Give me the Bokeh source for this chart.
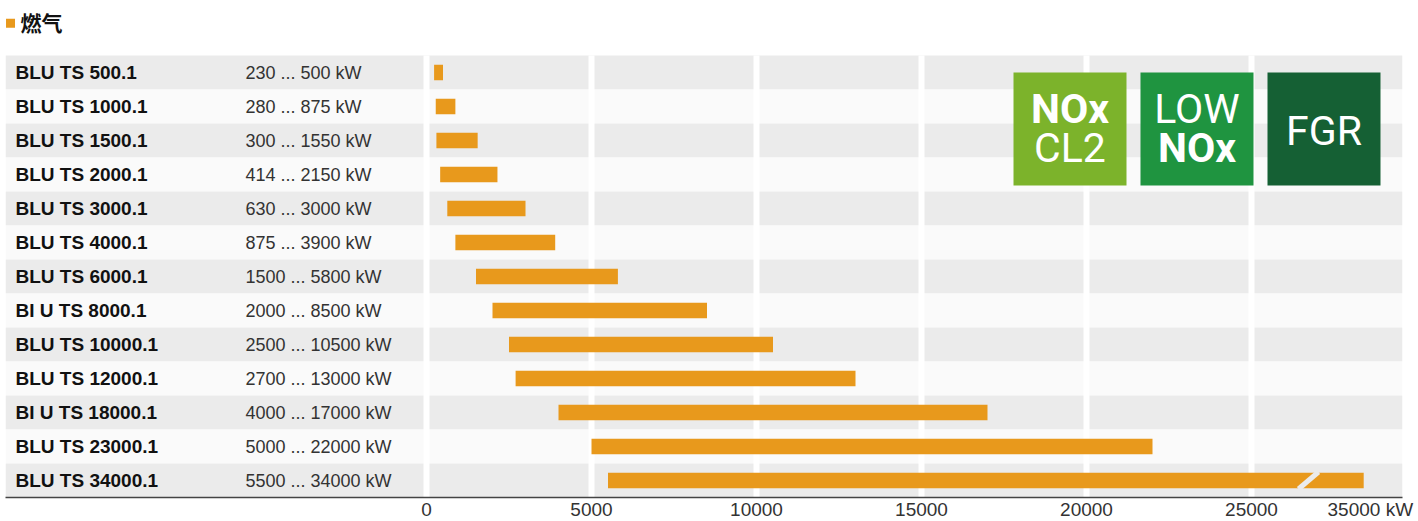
from bokeh.plotting import figure
from bokeh.models import Range1d, FixedTicker, ColumnDataSource
from bokeh.core.properties import value
from bokeh.embed import file_html
from bokeh.resources import INLINE

# ---------------- data ----------------
models = ["BLU TS 500.1", "BLU TS 1000.1", "BLU TS 1500.1", "BLU TS 2000.1",
          "BLU TS 3000.1", "BLU TS 4000.1", "BLU TS 6000.1", "BI U TS 8000.1",
          "BLU TS 10000.1", "BLU TS 12000.1", "BI U TS 18000.1", "BLU TS 23000.1",
          "BLU TS 34000.1"]
min_kw = [230, 280, 300, 414, 630, 875, 1500, 2000, 2500, 2700, 4000, 5000, 5500]
max_kw = [500, 875, 1550, 2150, 3000, 3900, 5800, 8500, 10500, 13000, 17000, 22000, 34000]
tick_values = [0, 5000, 10000, 15000, 20000, 25000, 35000]
tick_labels = ["0", "5000", "10000", "15000", "20000", "25000", "35000 kW"]
title_text = "燃气"
badges = [["NOx", "CL2"], ["LOW", "NOx"], ["FGR"]]

# ---------------- broken axis transform ----------------
BREAK = 27000
COMPRESS = 0.2


def disp(v):
    return v if v <= BREAK else BREAK + (v - BREAK) * COMPRESS


ORANGE = "#E8991C"
n = len(models)
rows = list(range(n))

X0, X1 = -12758, 29576
Y_TOP = -0.5 - 47 / 34.0

p = figure(frame_width=1397, frame_height=489,
           x_range=Range1d(X0, X1), y_range=Range1d(n - 0.5, Y_TOP),
           output_backend="svg", toolbar_location=None,
           y_axis_location=None, min_border_left=5, min_border_right=14,
           min_border_top=8, min_border_bottom=0)
p.outline_line_color = None
p.background_fill_color = "white"
p.border_fill_color = "white"
p.xgrid.visible = False
p.ygrid.visible = False

# row bands
band_colors = ["#ebebeb" if i % 2 == 0 else "#fafafa" for i in rows]
p.quad(left=[X0] * n, right=[X1] * n,
       top=[i - 0.5 for i in rows], bottom=[i + 0.5 for i in rows],
       fill_color=band_colors, line_color=None)

# white grid lines (only below the break)
grid_x = [disp(t) for t in tick_values if t <= 25000]
p.segment(x0=grid_x, x1=grid_x, y0=[-0.5] * len(grid_x), y1=[n - 0.5] * len(grid_x),
          line_color="white", line_width=6)

# bars
src = ColumnDataSource(dict(
    y=rows,
    left=[disp(v) for v in min_kw],
    right=[disp(v) for v in max_kw],
    name=models,
    rng=[f"{a} ... {b} kW" for a, b in zip(min_kw, max_kw)],
))
p.hbar(y="y", left="left", right="right", height=0.45, source=src,
       fill_color=ORANGE, line_color=None)

# axis break slash on last bar
p.segment(x0=[26424], y0=[n - 1 + 0.25], x1=[27030], y1=[n - 1 - 0.25],
          line_color="#fafafa" if (n - 1) % 2 else "#ebebeb", line_width=5)

# label columns
p.text(x=-12455, y="y", text="name", source=src, text_font=value("Liberation Sans"),
       text_font_style="bold", text_font_size="19px", text_color="#111111",
       text_baseline="middle", text_align="left")
p.text(x=-5485, y="y", text="rng", source=src, text_font=value("Liberation Sans"),
       text_font_size="18px", text_color="#333333",
       text_baseline="middle", text_align="left")

# title
p.scatter(x=[-12606], y=[-1.45], marker="square", size=9, fill_color=ORANGE, line_color=None)
p.text(x=[-12300], y=[-1.5], text=[title_text], text_font=value("Noto Sans CJK SC"),
       text_font_style="bold", text_font_size="21px", text_color="#111111",
       text_baseline="middle", text_align="left")

# badges
badge_left = [17788, 21636, 25485]
badge_right = [21212, 25061, 28909]
badge_colors = ["#7cb32b", "#1f9440", "#156034"]
p.quad(left=badge_left, right=badge_right, top=[0.0] * 3, bottom=[3.32] * 3,
       fill_color=badge_colors, line_color=None)
centers = [(l + r) / 2 for l, r in zip(badge_left, badge_right)]
line_specs = [
    (0, 0, 1.074, "bold"), (0, 1, 2.206, "normal"),
    (1, 0, 1.088, "normal"), (1, 1, 2.22, "bold"),
    (2, 0, 1.706, "normal"),
]
for bi, li, yy, style in line_specs:
    p.text(x=[centers[bi]], y=[yy], text=[badges[bi][li]],
           text_font=value("Roboto"), text_font_style=style,
           text_font_size="41px", text_color="white",
           text_baseline="middle", text_align="center")

# x axis
ax = p.xaxis[0]
ax.ticker = FixedTicker(ticks=[disp(t) for t in tick_values])
ax.major_label_overrides = {disp(t): lab for t, lab in zip(tick_values, tick_labels)}
ax.major_tick_out = 0
ax.major_tick_in = 0
ax.minor_tick_out = 0
ax.minor_tick_in = 0
ax.axis_line_color = "#444444"
ax.axis_line_width = 1.5
ax.major_label_standoff = 1
ax.major_label_text_font = "Liberation Sans"
ax.major_label_text_font_size = "19px"
ax.major_label_text_color = "#333333"

open("out.html", "w").write(file_html(p, INLINE))
